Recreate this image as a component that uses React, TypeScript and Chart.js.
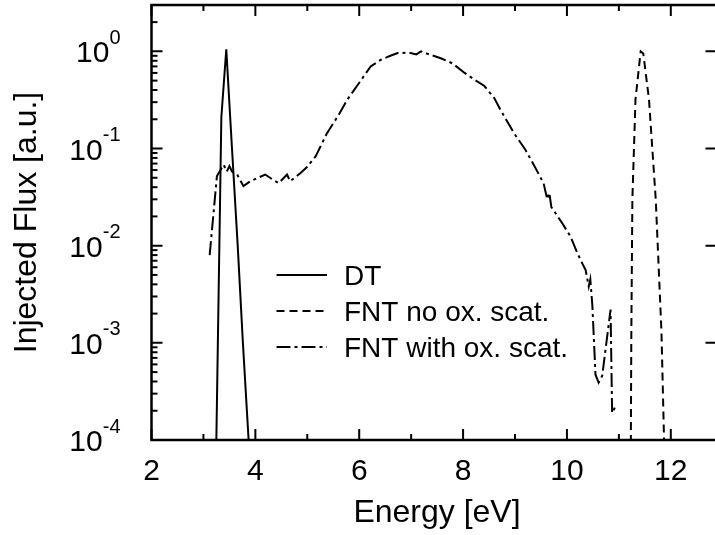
import React, { useEffect, useRef } from "react";
import { Chart, registerables } from "chart.js";

Chart.register(...registerables);

// ---- data ----
const dtEnergy = [3.24, 3.345, 3.44, 3.55, 3.66, 3.76, 3.87, 3.9];
const dtFlux = [5e-5, 0.21, 1.05, 0.1, 0.01, 1e-3, 1e-4, 5e-5];

const fntNoEnergy = [11.225, 11.24, 11.26, 11.32, 11.42, 11.47, 11.58, 11.71, 11.82, 11.87, 11.89];
const fntNoFlux = [2e-5, 1.3e-3, 0.03, 0.32, 1.0, 0.95, 0.32, 0.03, 1.3e-3, 1e-4, 3e-5];

const fntOxEnergy = [
  3.12, 3.26, 3.39, 3.45, 3.5, 3.55, 3.65, 3.77, 3.9, 4.05, 4.19, 4.33, 4.45, 4.61, 4.67, 4.87,
  5.0, 5.16, 5.38, 5.6, 5.77, 6.0, 6.22, 6.42, 6.6, 6.74, 6.95, 7.1, 7.19, 7.3, 7.57, 7.8, 8.03,
  8.2, 8.41, 8.6, 8.72, 8.98, 9.2, 9.36, 9.55, 9.62, 9.66, 9.7, 9.91, 10.07, 10.2, 10.3, 10.36,
  10.42, 10.45, 10.49, 10.55, 10.61, 10.68, 10.84, 10.87, 10.95,
];
const fntOxFlux = [
  0.008, 0.052, 0.068, 0.058, 0.066, 0.058, 0.054, 0.041, 0.046, 0.05, 0.054, 0.048, 0.044, 0.054, 0.046, 0.056,
  0.065, 0.083, 0.144, 0.22, 0.318, 0.475, 0.7, 0.82, 0.9, 0.96, 0.97, 0.93, 1.0, 0.95, 0.85, 0.75, 0.6,
  0.52, 0.44, 0.33, 0.25, 0.144, 0.097, 0.068, 0.044, 0.03, 0.035, 0.025, 0.017, 0.0124, 0.0084, 0.0065, 0.0056,
  0.0038, 0.0045, 0.0024, 4.7e-4, 3.9e-4, 4.6e-4, 2.2e-3, 1.9e-4, 2.3e-4,
];

const seriesLabels = ["DT", "FNT no ox. scat.", "FNT with ox. scat."];
const xTickLabels = ["2", "4", "6", "8", "10", "12"];
const yDecades = [-4, -3, -2, -1, 0];
const xTitle = "Energy [eV]";
const yTitle = "Injected Flux [a.u.]";

const FONT = '"Liberation Sans", Arial, Helvetica, sans-serif';
const dashes: number[][] = [[], [8, 5], [14, 4, 3, 4]];

function pts(xs: number[], ys: (number | null)[]) {
  return xs.map((x, i) => ({ x, y: ys[i] }));
}

const framePlugin = {
  id: "frame",
  afterDraw(chart: any) {
    const { ctx, chartArea: a, scales } = chart;
    const xs = scales.x;
    const ys = scales.y;
    ctx.save();
    ctx.strokeStyle = "#000";
    ctx.fillStyle = "#000";
    ctx.setLineDash([]);
    // frame
    ctx.lineWidth = 2.5;
    ctx.strokeRect(a.left, a.top, a.right - a.left, a.bottom - a.top);
    ctx.lineWidth = 2;
    const major = 11;
    const minor = 6;
    // x ticks (bottom and top)
    xs.ticks.forEach((t: any) => {
      const v = t.value;
      const px = xs.getPixelForValue(v);
      if (px > a.right - 1) return;
      const len = Math.round(v) % 2 === 0 ? major : minor;
      ctx.beginPath();
      ctx.moveTo(px, a.bottom);
      ctx.lineTo(px, a.bottom - len);
      ctx.moveTo(px, a.top);
      ctx.lineTo(px, a.top + len);
      ctx.stroke();
    });
    // y ticks
    yDecades.forEach((e) => {
      for (let m = 1; m <= 9; m++) {
        const v = m * Math.pow(10, e);
        if (v > ys.max) break;
        const py = ys.getPixelForValue(v);
        const len = m === 1 ? major : minor;
        ctx.beginPath();
        ctx.moveTo(a.left, py);
        ctx.lineTo(a.left + len, py);
        if (m === 1) {
          ctx.moveTo(a.right, py);
          ctx.lineTo(a.right - len, py);
        }
        ctx.stroke();
      }
    });
    // x tick labels
    ctx.font = `30px ${FONT}`;
    ctx.textAlign = "center";
    ctx.textBaseline = "alphabetic";
    xTickLabels.forEach((lab) => {
      const px = xs.getPixelForValue(parseFloat(lab));
      ctx.fillText(lab, px, 479.5);
    });
    // y tick labels 10^e
    yDecades.forEach((e) => {
      const py = ys.getPixelForValue(Math.pow(10, e));
      ctx.font = `30px ${FONT}`;
      const wb = ctx.measureText("10").width;
      ctx.font = `20px ${FONT}`;
      const sup = String(e);
      const ws = ctx.measureText(sup).width;
      const right = 120.5;
      ctx.textAlign = "left";
      ctx.font = `30px ${FONT}`;
      ctx.fillText("10", right - ws - wb, py + 11);
      ctx.font = `20px ${FONT}`;
      ctx.fillText(sup, right - ws, py - 7.5);
    });
    // axis titles
    ctx.font = `32px ${FONT}`;
    ctx.textAlign = "center";
    ctx.fillText(xTitle, 437, 521.5);
    ctx.save();
    ctx.translate(36, (a.top + a.bottom) / 2);
    ctx.rotate(-Math.PI / 2);
    ctx.fillText(yTitle, 0, 0);
    ctx.restore();
    // legend
    const legY = [275, 311, 347];
    chart.data.datasets.forEach((ds: any, i: number) => {
      const y = legY[i];
      ctx.lineWidth = 2;
      ctx.setLineDash(ds.borderDash || []);
      ctx.beginPath();
      ctx.moveTo(276.5, y);
      ctx.lineTo(327, y);
      ctx.stroke();
      ctx.setLineDash([]);
      ctx.font = `28px ${FONT}`;
      ctx.textAlign = "left";
      ctx.fillText(ds.label, 344, y + 10);
    });
    ctx.restore();
  },
};

export default function App() {
  const ref = useRef<HTMLCanvasElement | null>(null);
  useEffect(() => {
    if (!ref.current) return;
    const mk = (i: number, data: any[]) => ({
      label: seriesLabels[i],
      data,
      borderColor: "#000",
      backgroundColor: "#000",
      borderWidth: 2,
      borderDash: dashes[i],
      pointRadius: 0,
      tension: 0,
      fill: false,
      spanGaps: false,
    });
    const chart = new Chart(ref.current, {
      type: "line",
      data: {
        datasets: [
          mk(0, pts(dtEnergy, dtFlux)),
          mk(1, pts(fntNoEnergy, fntNoFlux)),
          mk(2, pts(fntOxEnergy, fntOxFlux)),
        ],
      },
      options: {
        responsive: false,
        devicePixelRatio: 1,
        animation: false,
        layout: { padding: { left: 0, top: 5, right: 13.5, bottom: 0 } },
        plugins: { legend: { display: false }, tooltip: { enabled: false } },
        scales: {
          x: {
            type: "linear",
            min: 2,
            max: 12.88,
            grid: { display: false },
            border: { display: false },
            ticks: { display: false, stepSize: 1, includeBounds: false },
            afterFit: (s: any) => {
              s.height = 95;
            },
          },
          y: {
            type: "logarithmic",
            min: 1e-4,
            max: 3,
            grid: { display: false },
            border: { display: false },
            ticks: { display: false },
            afterFit: (s: any) => {
              s.width = 151.5;
            },
          },
        },
      },
      plugins: [framePlugin],
    } as any);
    return () => chart.destroy();
  }, []);
  return (
    <div
      style={{
        position: "fixed",
        left: 0,
        top: 0,
        width: 715,
        height: 535,
        overflow: "hidden",
        background: "#fff",
      }}
    >
      <canvas ref={ref} width={730} height={535} style={{ display: "block" }} />
    </div>
  );
}
